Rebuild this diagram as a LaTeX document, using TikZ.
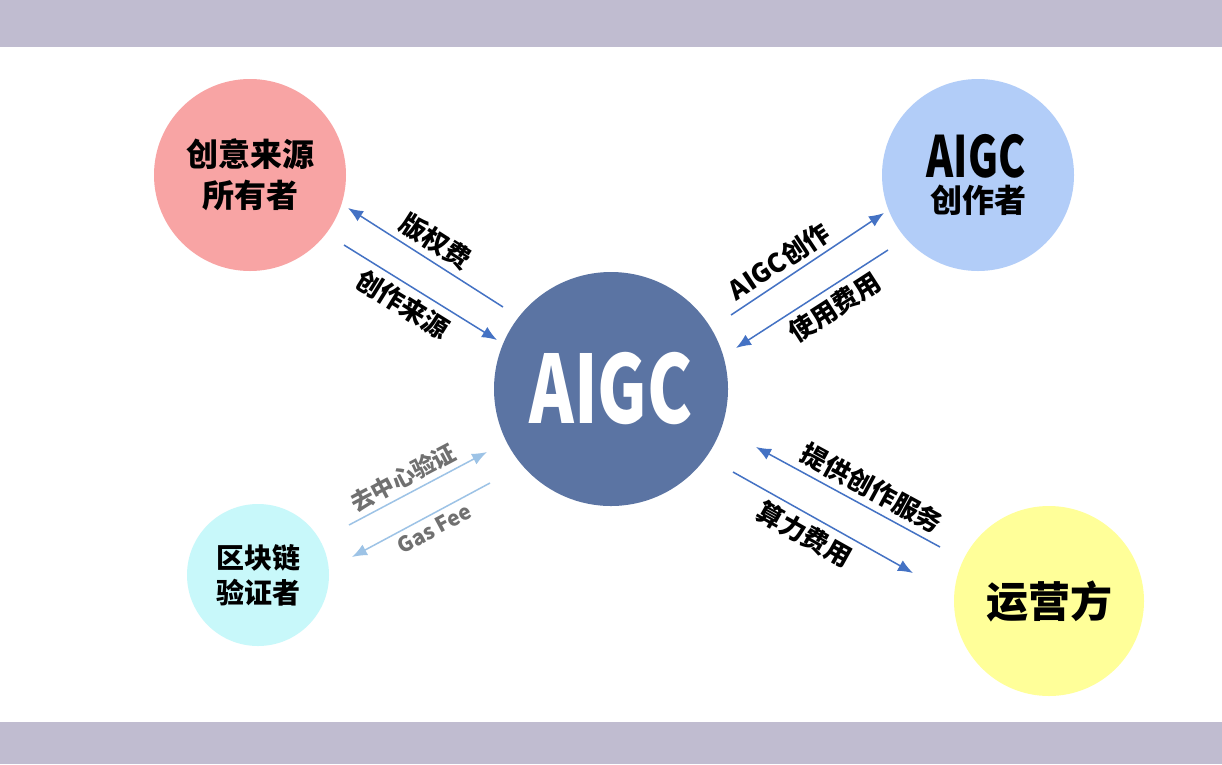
\documentclass[tikz,border=0pt]{standalone}
\usepackage{fontspec}
\usepackage{graphicx}
\newfontfamily\cjk{Noto Sans CJK SC}
\usetikzlibrary{arrows.meta}
\definecolor{bande}{HTML}{C0BCD0}
\definecolor{rose}{HTML}{F8A4A4}
\definecolor{bleuclair}{HTML}{B2CDF8}
\definecolor{centre}{HTML}{5B74A3}
\definecolor{cyan}{HTML}{C8F8FA}
\definecolor{jaune}{HTML}{FFFF99}
\definecolor{bleu}{HTML}{4472C4}
\definecolor{bleupale}{HTML}{9DC3E6}
\definecolor{gris}{HTML}{707070}
\begin{document}
\begin{tikzpicture}[x=1pt, y=-1pt]
	\tikzset{rond/.style={circle, inner sep=0pt, align=center, font=\cjk\bfseries}, fleche/.style={-{Latex[length=15pt, width=12pt]}, line width=1.5pt, draw=bleu}, flechepale/.style={fleche, draw=bleupale}, etiquette/.style={font=\cjk\bfseries\fontsize{26}{26}\selectfont, inner sep=0pt, sloped}};

	\useasboundingbox (0,0) rectangle (1222,764);
	\fill[white] (0,0) rectangle (1222,764);
	\fill[bande] (0,0) rectangle (1222,47);
	\fill[bande] (0,722) rectangle (1222,764);

	\node[rond, fill=rose, minimum size=192pt, font=\cjk\bfseries\fontsize{32}{41}\selectfont] (source) at (250,175) {创意来源\\所有者};
	\node[rond, fill=bleuclair, minimum size=192pt] (createur) at (978,175) {};
	\node[font=\cjk\bfseries\fontsize{57}{57}\selectfont, inner sep=0pt] (titre) at (976,156) {\scalebox{0.72}[1]{AIGC}};
	\node[font=\cjk\bfseries\fontsize{32}{32}\selectfont, inner sep=0pt] (sous) at (978,200) {创作者};
	\node[rond, fill=centre, minimum size=234pt, text=white, font=\cjk\bfseries\fontsize{94}{94}\selectfont] (aigc) at (611,389) {\scalebox{0.72}[1]{AIGC}};
	\node[rond, fill=cyan, minimum size=142pt, font=\cjk\bfseries\fontsize{28}{35}\selectfont] (valid) at (258,575) {区块链\\验证者};
	\node[rond, fill=jaune, minimum size=190pt, font=\cjk\bfseries\fontsize{42}{42}\selectfont] (oper) at (1049,601) {运营方};

	\coordinate (s1) at (503,307);
	\coordinate (s2) at (348,208);
	\coordinate (s3) at (344,245);
	\coordinate (s4) at (497,340);

	\coordinate (c1) at (731,315);
	\coordinate (c2) at (884,213);
	\coordinate (c3) at (888,250);
	\coordinate (c4) at (736,348);

	\coordinate (v1) at (349,525);
	\coordinate (v2) at (487,452);
	\coordinate (v3) at (490,483);
	\coordinate (v4) at (352,557);

	\coordinate (o1) at (940,547);
	\coordinate (o2) at (756,447);
	\coordinate (o3) at (733,472);
	\coordinate (o4) at (913,573);

	\draw[fleche] (s1) to node[etiquette, above=6pt] (l1) {版权费} (s2);
	\draw[fleche] (s3) to node[etiquette, below=6pt, pos=0.45] (l2) {创作来源} (s4);

	\draw[fleche] (c1) to node[etiquette, above=5pt, pos=0.38] (l3) {AIGC创作} (c2);
	\draw[fleche] (c3) to node[etiquette, below=6pt, pos=0.42] (l4) {使用费用} (c4);

	\draw[flechepale] (v1) to node[etiquette, above=5pt, text=gris, pos=0.45, font=\cjk\bfseries\fontsize{23}{23}\selectfont] (l5) {去中心验证} (v2);
	\draw[flechepale] (v3) to node[etiquette, below=5pt, text=gris, pos=0.45, font=\cjk\bfseries\fontsize{21}{21}\selectfont] (l6) {Gas Fee} (v4);

	\draw[fleche] (o1) to node[etiquette, above=6pt, pos=0.42] (l7) {提供创作服务} (o2);
	\draw[fleche] (o3) to node[etiquette, below=6pt, pos=0.45] (l8) {算力费用} (o4);

\end{tikzpicture}
\end{document}
